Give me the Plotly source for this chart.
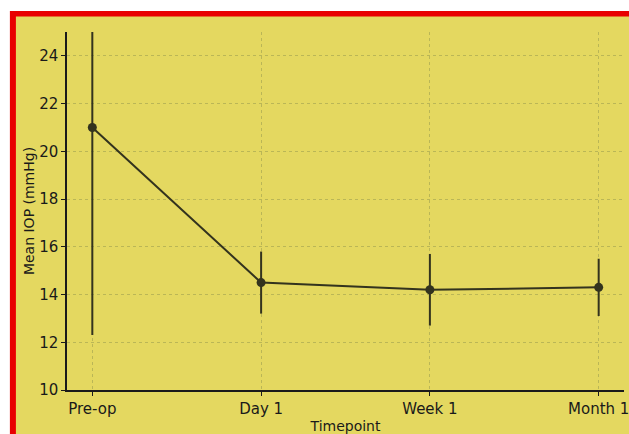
import plotly.graph_objects as go

timepoints = ["Pre-op", "Day 1", "Week 1", "Month 1"]
mean_iop = [21.0, 14.5, 14.2, 14.3]
sd_iop = [8.7, 1.3, 1.5, 1.2]

y_ticks = [10, 12, 14, 16, 18, 20, 22, 24]

bg = "#e4d860"
line_col = "#33331e"
grid_col = "#bab656"

K = 1.011  # compensation for rendering scale

fig = go.Figure()
fig.add_trace(go.Scatter(
    x=list(range(len(timepoints))), y=mean_iop,
    mode="lines+markers",
    line=dict(color=line_col, width=2),
    marker=dict(color=line_col, size=9),
    error_y=dict(type="data", array=sd_iop, visible=True, color=line_col, thickness=2, width=0),
    showlegend=False,
))

L, R, T, B = 66, 622, 32, 389
W, H = 629, 434
def px(x): return (x - L) / (R - L)
def py(y): return (B - y) / (B - T)

fig.add_shape(type="rect", xref="paper", yref="paper", layer="below",
              x0=px(9), x1=px(650), y0=py(450), y1=py(11),
              fillcolor="#e80000", line=dict(width=0))
fig.add_shape(type="rect", xref="paper", yref="paper", layer="below",
              x0=px(15), x1=px(650), y0=py(450), y1=py(16.5),
              fillcolor=bg, line=dict(width=0))

fig.update_layout(
    width=round(W * K), height=round(H * K),
    margin=dict(l=round(L * K), r=round((W - R) * K), t=round(T * K), b=round((H - B) * K)),
    paper_bgcolor="white", plot_bgcolor=bg,
    font=dict(family="DejaVu Sans", color="#1a1a1a"),
)
fig.update_xaxes(
    range=[-0.15, 3.15], tickvals=list(range(len(timepoints))), ticktext=timepoints,
    showline=True, linecolor="#1a1a1a", linewidth=1.5,
    ticks="outside", ticklen=4, tickcolor="#1a1a1a",
    tickfont=dict(size=15),
    showgrid=True, gridcolor=grid_col, griddash="dot", gridwidth=1,
    zeroline=False,
    title=dict(text="Timepoint", font=dict(size=14), standoff=4),
)
fig.update_yaxes(
    range=[10, 25], tickvals=y_ticks,
    showline=True, linecolor="#1a1a1a", linewidth=1.5,
    ticks="outside", ticklen=4, tickcolor="#1a1a1a",
    tickfont=dict(size=15),
    showgrid=True, gridcolor=grid_col, griddash="dot", gridwidth=1,
    zeroline=False,
    title=dict(text="Mean IOP (mmHg)", font=dict(size=14), standoff=1),
)

fig.write_html("out.html", config={"displayModeBar": False},
               post_script="document.body.style.margin='0';document.body.style.overflow='hidden';")
